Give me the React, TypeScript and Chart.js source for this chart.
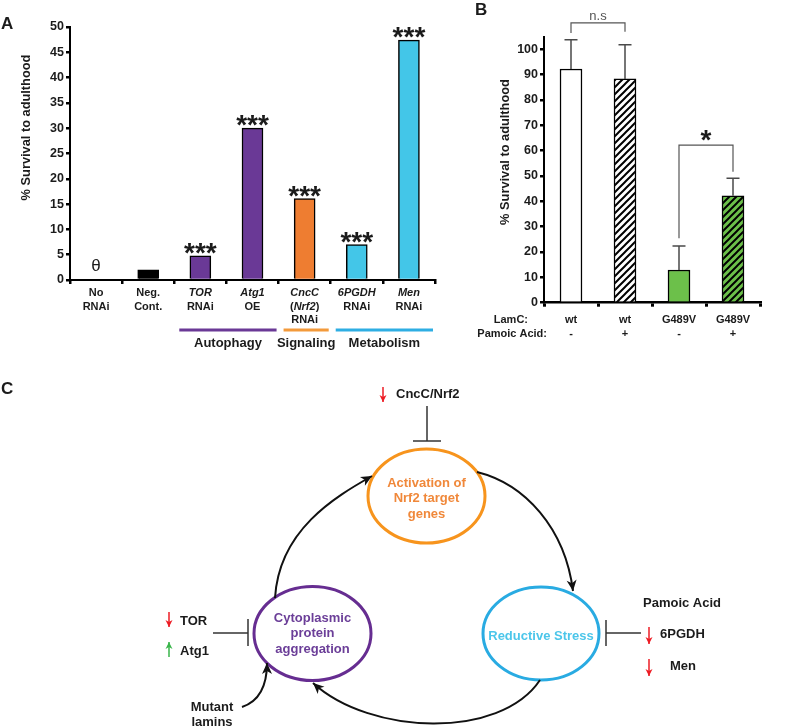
import React, { useEffect, useRef } from "react";
import { Chart, registerables } from "chart.js";

Chart.register(...registerables);

const FONT = 'Arial, "Liberation Sans", Helvetica, sans-serif';
const INK = "#1b1b1b";

// ---------------- Panel A data ----------------
const aCategories = ["No RNAi", "Neg. Cont.", "TOR RNAi", "Atg1 OE", "CncC (Nrf2) RNAi", "6PGDH RNAi", "Men RNAi"];
const aValues = [0, 2, 4.8, 30, 16.1, 7, 47.4];
const aBarColors = ["#ffffff", "#000000", "#6a3996", "#6a3996", "#ee7d31", "#43c6e8", "#43c6e8"];
const aSignificance = ["", "", "***", "***", "***", "***", "***"];
const aZeroMarks = ["θ", "", "", "", "", "", ""];
// "_x_" marks italic text
const aTickLine1 = ["No", "Neg.", "_TOR_", "_Atg1_", "_CncC_", "_6PGDH_", "_Men_"];
const aTickLine2 = ["RNAi", "Cont.", "RNAi", "OE", "(_Nrf2_)", "RNAi", "RNAi"];
const aTickLine3 = ["", "", "", "", "RNAi", "", ""];
const aYTicks = [0, 5, 10, 15, 20, 25, 30, 35, 40, 45, 50];
const aGroupNames = ["Autophagy", "Signaling", "Metabolism"];
const aGroupFirst = [2, 4, 5];
const aGroupLast = [3, 4, 6];
const aGroupColors = ["#6a3996", "#f39a3b", "#2eaee3"];

// ---------------- Panel B data ----------------
const bLamC = ["wt", "wt", "G489V", "G489V"];
const bPamoic = ["-", "+", "-", "+"];
const bValues = [92.2, 88.3, 12.9, 42.2];
const bErrorUp = [11.6, 13.5, 9.5, 6.9];
const bFillColors = ["#ffffff", "#ffffff", "#6cc04a", "#6cc04a"];
const bHatched = [false, true, false, true];
const bYTicks = [0, 10, 20, 30, 40, 50, 60, 70, 80, 90, 100];
const bBracketLeft = [0, 2];
const bBracketRight = [1, 3];
const bBracketText = ["n.s", "*"];
const bBracketY = [110.4, 62.2];
const bBracketLeftFoot = [106.4, 25.4];
const bBracketRightFoot = [106.9, 51.7];

// ---------------- Panel C labels ----------------
const cNodeLines = [["Activation of", "Nrf2 target", "genes"], ["Cytoplasmic", "protein", "aggregation"], ["Reductive Stress"]];
const cNodeStroke = ["#f7941d", "#662d91", "#29abe2"];
const cNodeText = ["#f0883a", "#6b3e98", "#4cc6ea"];

function drawRich(ctx: CanvasRenderingContext2D, text: string, cx: number, y: number, size: number) {
  const parts = text.split("_");
  const fonts = parts.map((_, i) => `${i % 2 ? "italic " : ""}bold ${size}px ${FONT}`);
  let total = 0;
  const widths = parts.map((p, i) => {
    ctx.font = fonts[i];
    const w = ctx.measureText(p).width;
    total += w;
    return w;
  });
  let x = cx - total / 2;
  ctx.textAlign = "left";
  parts.forEach((p, i) => {
    ctx.font = fonts[i];
    ctx.fillText(p, x, y);
    x += widths[i];
  });
}

function drawYTitle(ctx: CanvasRenderingContext2D, cx: number, cy: number) {
  ctx.save();
  ctx.translate(cx, cy);
  ctx.rotate(-Math.PI / 2);
  ctx.textAlign = "center";
  ctx.textBaseline = "middle";
  ctx.fillStyle = INK;
  ctx.font = `bold 12.8px ${FONT}`;
  ctx.fillText("% Survival to adulthood", 0, 0);
  ctx.restore();
}

const panelAPlugin = {
  id: "panelA",
  afterDraw(chart: any) {
    const ctx: CanvasRenderingContext2D = chart.ctx;
    const x = chart.scales.x;
    const y = chart.scales.y;
    ctx.save();
    ctx.fillStyle = INK;
    ctx.textBaseline = "alphabetic";
    ctx.textAlign = "left";
    ctx.font = `bold 17px ${FONT}`;
    ctx.fillText("A", 1, 29);
    drawYTitle(ctx, 26, 127.5);

    const base = y.getPixelForValue(0);
    aValues.forEach((v, i) => {
      const px = x.getPixelForValue(i);
      if (aSignificance[i]) {
        ctx.textAlign = "center";
        ctx.font = `bold 28px ${FONT}`;
        ctx.fillText(aSignificance[i], px, y.getPixelForValue(v) + 6);
      }
      if (aZeroMarks[i]) {
        ctx.textAlign = "center";
        ctx.font = `17px ${FONT}`;
        ctx.fillText(aZeroMarks[i], px, base - 9);
      }
      drawRich(ctx, aTickLine1[i], px, base + 16, 11);
      drawRich(ctx, aTickLine2[i], px, base + 29.5, 11);
      if (aTickLine3[i]) drawRich(ctx, aTickLine3[i], px, base + 43, 11);
    });

    const half = (x.getPixelForValue(1) - x.getPixelForValue(0)) / 2;
    aGroupNames.forEach((name, g) => {
      const l = x.getPixelForValue(aGroupFirst[g]) - half + 5;
      const r = x.getPixelForValue(aGroupLast[g]) + half - 2;
      ctx.strokeStyle = aGroupColors[g];
      ctx.lineWidth = 3;
      ctx.beginPath();
      ctx.moveTo(l, base + 50);
      ctx.lineTo(r, base + 50);
      ctx.stroke();
      ctx.fillStyle = INK;
      ctx.textAlign = "center";
      ctx.font = `bold 13px ${FONT}`;
      ctx.fillText(name, (l + r) / 2, base + 67);
    });
    ctx.restore();
  },
};

const panelBPlugin = {
  id: "panelB",
  afterDraw(chart: any) {
    const ctx: CanvasRenderingContext2D = chart.ctx;
    const x = chart.scales.x;
    const y = chart.scales.y;
    ctx.save();
    ctx.fillStyle = INK;
    ctx.textBaseline = "alphabetic";
    ctx.textAlign = "left";
    ctx.font = `bold 17px ${FONT}`;
    ctx.fillText("B", 25, 15);
    drawYTitle(ctx, 55, 152);

    // error bars
    ctx.strokeStyle = "#4a4a4a";
    ctx.lineWidth = 1.5;
    bValues.forEach((v, i) => {
      const px = x.getPixelForValue(i);
      const top = y.getPixelForValue(v);
      const et = y.getPixelForValue(v + bErrorUp[i]);
      ctx.beginPath();
      ctx.moveTo(px, top);
      ctx.lineTo(px, et);
      ctx.moveTo(px - 6.5, et);
      ctx.lineTo(px + 6.5, et);
      ctx.stroke();
    });

    // significance brackets
    bBracketText.forEach((t, k) => {
      const xl = x.getPixelForValue(bBracketLeft[k]);
      const xr = x.getPixelForValue(bBracketRight[k]);
      const by = y.getPixelForValue(bBracketY[k]);
      ctx.strokeStyle = "#555";
      ctx.lineWidth = 1.2;
      ctx.beginPath();
      ctx.moveTo(xl, y.getPixelForValue(bBracketLeftFoot[k]));
      ctx.lineTo(xl, by);
      ctx.lineTo(xr, by);
      ctx.lineTo(xr, y.getPixelForValue(bBracketRightFoot[k]));
      ctx.stroke();
      ctx.textAlign = "center";
      const isStar = /^\*+$/.test(t);
      if (isStar) {
        ctx.fillStyle = INK;
        ctx.font = `bold 28px ${FONT}`;
        ctx.fillText(t, (xl + xr) / 2, by + 3.5);
      } else {
        ctx.fillStyle = "#555";
        ctx.font = `13px ${FONT}`;
        ctx.fillText(t, (xl + xr) / 2, by - 2.5);
      }
    });

    // condition labels
    const base = y.getPixelForValue(0);
    ctx.fillStyle = INK;
    ctx.font = `bold 11px ${FONT}`;
    ctx.textAlign = "right";
    ctx.fillText("LamC:", 78, base + 20.5);
    ctx.fillText("Pamoic Acid:", 97, base + 34.5);
    ctx.textAlign = "center";
    bLamC.forEach((t, i) => {
      const px = x.getPixelForValue(i);
      ctx.fillText(t, px, base + 20.5);
      ctx.fillText(bPamoic[i], px, base + 34.5);
    });
    ctx.restore();
  },
};

function arrowHead(ctx: CanvasRenderingContext2D, tx: number, ty: number, ang: number, len: number, half: number) {
  const c = Math.cos(ang);
  const s = Math.sin(ang);
  ctx.beginPath();
  ctx.moveTo(tx, ty);
  ctx.lineTo(tx - len * c + half * s, ty - len * s - half * c);
  ctx.lineTo(tx - 0.72 * len * c, ty - 0.72 * len * s);
  ctx.lineTo(tx - len * c - half * s, ty - len * s + half * c);
  ctx.closePath();
  ctx.fill();
}

const diagramPlugin = {
  id: "diagram",
  afterDraw(chart: any) {
    const ctx: CanvasRenderingContext2D = chart.ctx;
    const sx = chart.scales.x;
    const sy = chart.scales.y;
    const X = (v: number) => sx.getPixelForValue(v);
    const Y = (v: number) => sy.getPixelForValue(v);
    ctx.save();
    ctx.fillStyle = INK;
    ctx.textBaseline = "alphabetic";
    ctx.textAlign = "left";
    ctx.font = `bold 17px ${FONT}`;
    ctx.fillText("C", 1, Y(394));

    // nodes
    const centers = [
      [426.5, 496, 58.5, 47],
      [312.5, 633.5, 58.5, 47],
      [541, 633.5, 58, 46.5],
    ];
    const lineTops = [483, 618, 636];
    centers.forEach((c, i) => {
      ctx.strokeStyle = cNodeStroke[i];
      ctx.lineWidth = 3;
      ctx.beginPath();
      ctx.ellipse(X(c[0]), Y(c[1]), c[2], c[3], 0, 0, Math.PI * 2);
      ctx.stroke();
      ctx.fillStyle = cNodeText[i];
      ctx.font = `bold 13px ${FONT}`;
      ctx.textAlign = "center";
      ctx.textBaseline = "middle";
      cNodeLines[i].forEach((t, k) => {
        ctx.fillText(t, X(c[0]), Y(lineTops[i] + k * 15.5));
      });
    });

    // black curved arrows
    const curves = [
      [[275, 598], [279, 530], [335, 497], [372, 476]],
      [[477, 472], [525, 484], [565, 528], [573, 591]],
      [[540, 680], [500, 740], [370, 735], [313, 683]],
      [[242, 707], [260, 701], [267, 686], [267, 663]],
    ];
    ctx.strokeStyle = "#111";
    ctx.fillStyle = "#111";
    ctx.lineWidth = 2;
    curves.forEach((p) => {
      ctx.beginPath();
      ctx.moveTo(X(p[0][0]), Y(p[0][1]));
      ctx.bezierCurveTo(X(p[1][0]), Y(p[1][1]), X(p[2][0]), Y(p[2][1]), X(p[3][0]), Y(p[3][1]));
      ctx.stroke();
      const ang = Math.atan2(p[3][1] - p[2][1], p[3][0] - p[2][0]);
      arrowHead(ctx, X(p[3][0]), Y(p[3][1]), ang, 11, 5);
    });

    // inhibition bars
    ctx.strokeStyle = "#333";
    ctx.lineWidth = 1.5;
    const segs = [
      [427, 406, 427, 441], [413, 441, 441, 441],
      [213, 633, 248, 633], [248, 619, 248, 646],
      [606, 620, 606, 646], [606, 633, 641, 633],
    ];
    segs.forEach((s) => {
      ctx.beginPath();
      ctx.moveTo(X(s[0]), Y(s[1]));
      ctx.lineTo(X(s[2]), Y(s[3]));
      ctx.stroke();
    });

    // small up/down arrows
    const small = [
      [383, 387, 402, "#ed1c24"],
      [169, 612, 627, "#ed1c24"],
      [169, 657, 642, "#39b54a"],
      [649, 627, 644, "#ed1c24"],
      [649, 659, 676, "#ed1c24"],
    ];
    small.forEach((a: any) => {
      ctx.strokeStyle = a[3];
      ctx.fillStyle = a[3];
      ctx.lineWidth = 1.5;
      ctx.beginPath();
      ctx.moveTo(X(a[0]), Y(a[1]));
      ctx.lineTo(X(a[0]), Y(a[2]));
      ctx.stroke();
      const ang = a[2] > a[1] ? Math.PI / 2 : -Math.PI / 2;
      arrowHead(ctx, X(a[0]), Y(a[2]), ang, 7, 3.5);
    });

    // texts
    ctx.fillStyle = INK;
    ctx.font = `bold 13px ${FONT}`;
    ctx.textBaseline = "middle";
    ctx.textAlign = "left";
    ctx.fillText("CncC/Nrf2", X(396), Y(394));
    ctx.fillText("TOR", X(180), Y(621));
    ctx.fillText("Atg1", X(180), Y(651));
    ctx.fillText("6PGDH", X(660), Y(634));
    ctx.fillText("Men", X(670), Y(666));
    ctx.textAlign = "center";
    ctx.fillText("Pamoic Acid", X(682), Y(603));
    ctx.fillText("Mutant", X(212), Y(707));
    ctx.fillText("lamins", X(212), Y(722));
    ctx.restore();
  },
};

function makeHatch(bg: string): CanvasPattern | string {
  const s = 7;
  const c = document.createElement("canvas");
  c.width = s;
  c.height = s;
  const g = c.getContext("2d");
  if (!g) return bg;
  g.fillStyle = bg;
  g.fillRect(0, 0, s, s);
  g.strokeStyle = "#000";
  g.lineWidth = 2;
  g.beginPath();
  g.moveTo(0, s);
  g.lineTo(s, 0);
  g.moveTo(-1, 1);
  g.lineTo(1, -1);
  g.moveTo(s - 1, s + 1);
  g.lineTo(s + 1, s - 1);
  g.stroke();
  const p = g.createPattern(c, "repeat");
  return p || bg;
}

const tickFont = { family: FONT, size: 12.5, weight: "bold" as const };

export default function App() {
  const aRef = useRef<HTMLCanvasElement>(null);
  const bRef = useRef<HTMLCanvasElement>(null);
  const cRef = useRef<HTMLCanvasElement>(null);

  useEffect(() => {
    const charts: Chart[] = [];
    if (aRef.current) {
      charts.push(
        new Chart(aRef.current, {
          type: "bar",
          data: {
            labels: aCategories,
            datasets: [
              {
                data: aValues,
                backgroundColor: aBarColors,
                borderColor: "#000",
                borderWidth: 1.5,
                barThickness: 21,
              },
            ],
          },
          options: {
            animation: false,
            responsive: false,
            devicePixelRatio: 1,
            layout: { padding: { top: 27, right: 15, bottom: 75, left: 0 } },
            plugins: { legend: { display: false }, tooltip: { enabled: false } },
            scales: {
              x: {
                type: "category",
                offset: true,
                grid: { offset: true, drawOnChartArea: false, drawTicks: true, tickLength: 4, lineWidth: 2.5, color: "#000" },
                border: { display: true, color: "#000", width: 2 },
                ticks: { display: false },
                afterFit: (s: any) => {
                  s.height = 0;
                },
              },
              y: {
                min: 0,
                max: 50,
                afterBuildTicks: (s: any) => {
                  s.ticks = aYTicks.map((v) => ({ value: v }));
                },
                ticks: { font: tickFont, color: INK, padding: 2 },
                grid: { drawOnChartArea: false, drawTicks: true, tickLength: 4, lineWidth: 2.5, color: "#000" },
                border: { display: true, color: "#000", width: 2 },
                afterFit: (s: any) => {
                  s.width = 70;
                },
              },
            },
          } as any,
          plugins: [panelAPlugin],
        })
      );
    }
    if (bRef.current) {
      const fills = bFillColors.map((c, i) => (bHatched[i] ? makeHatch(c) : c));
      charts.push(
        new Chart(bRef.current, {
          type: "bar",
          data: {
            labels: bLamC.map((l, i) => `${l} ${bPamoic[i]}`),
            datasets: [
              {
                data: bValues,
                backgroundColor: fills as any,
                borderColor: "#000",
                borderWidth: 1.5,
                barThickness: 22,
              },
            ],
          },
          options: {
            animation: false,
            responsive: false,
            devicePixelRatio: 1,
            layout: { padding: { top: 36.6, right: 36, bottom: 47.3, left: 0 } },
            plugins: { legend: { display: false }, tooltip: { enabled: false } },
            scales: {
              x: {
                type: "category",
                offset: true,
                grid: { offset: true, drawOnChartArea: false, drawTicks: true, tickLength: 4, lineWidth: 3, color: "#000" },
                border: { display: true, color: "#000", width: 2.5 },
                ticks: { display: false },
                afterFit: (s: any) => {
                  s.height = 0;
                },
              },
              y: {
                min: 0,
                max: 105,
                afterBuildTicks: (s: any) => {
                  s.ticks = bYTicks.map((v) => ({ value: v }));
                },
                ticks: { font: tickFont, color: INK, padding: 2 },
                grid: { drawOnChartArea: false, drawTicks: true, tickLength: 4, lineWidth: 2.5, color: "#000" },
                border: { display: true, color: "#000", width: 2 },
                afterFit: (s: any) => {
                  s.width = 94;
                },
              },
            },
          } as any,
          plugins: [panelBPlugin],
        })
      );
    }
    if (cRef.current) {
      charts.push(
        new Chart(cRef.current, {
          type: "scatter",
          data: { datasets: [] },
          options: {
            animation: false,
            responsive: false,
            devicePixelRatio: 1,
            layout: { padding: 0 },
            plugins: { legend: { display: false }, tooltip: { enabled: false } },
            scales: {
              x: { type: "linear", min: 0, max: 796, display: false },
              y: { type: "linear", min: 360, max: 727, reverse: true, display: false },
            },
          } as any,
          plugins: [diagramPlugin],
        })
      );
    }
    return () => charts.forEach((c) => c.destroy());
  }, []);

  return (
    <div style={{ position: "relative", width: 796, height: 727, background: "#fff", overflow: "hidden" }}>
      <style>{`body{margin:0;background:#fff}`}</style>
      <canvas ref={aRef} width={450} height={355} style={{ position: "absolute", left: 0, top: 0, display: "block" }} />
      <canvas ref={bRef} width={346} height={350} style={{ position: "absolute", left: 450, top: 0, display: "block" }} />
      <canvas ref={cRef} width={796} height={367} style={{ position: "absolute", left: 0, top: 360, display: "block" }} />
    </div>
  );
}
